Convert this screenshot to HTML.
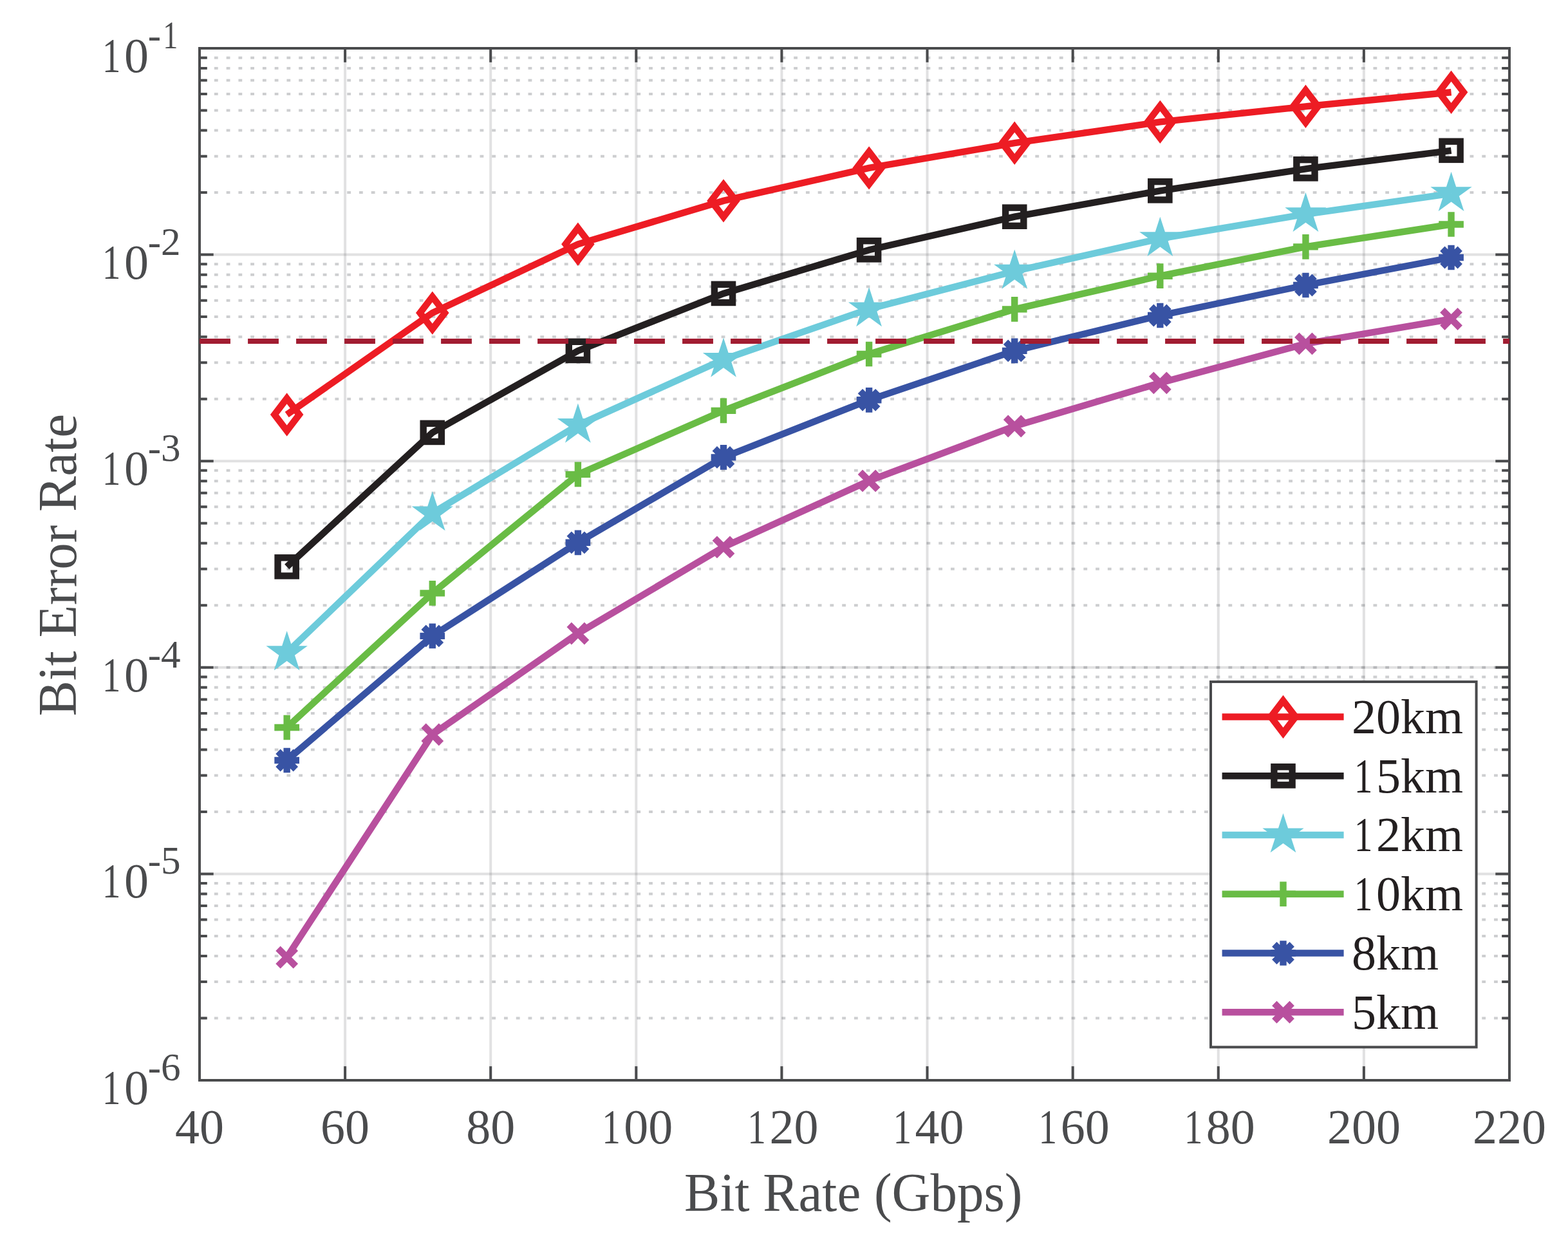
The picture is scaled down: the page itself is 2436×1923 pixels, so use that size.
<!DOCTYPE html><html><head><meta charset="utf-8"><title>Bit Error Rate vs Bit Rate</title><style>html,body{margin:0;padding:0;background:#fff;}svg{display:block;}text{font-family:"Liberation Serif","Times New Roman",serif;}</style></head><body>
<svg width="2436" height="1923" viewBox="0 0 2436 1923">
<rect x="0" y="0" width="2436" height="1923" fill="#ffffff"/>
<path d="M536.11 75.00V1678.00M762.22 75.00V1678.00M988.33 75.00V1678.00M1214.44 75.00V1678.00M1440.56 75.00V1678.00M1666.67 75.00V1678.00M1892.78 75.00V1678.00M2118.89 75.00V1678.00" stroke="#464a50" stroke-opacity="0.165" stroke-width="4" fill="none"/>
<path d="M310.00 1357.40H2345.00M310.00 1036.80H2345.00M310.00 716.20H2345.00M310.00 395.60H2345.00" stroke="#464a50" stroke-opacity="0.165" stroke-width="4" fill="none"/>
<path d="M310.00 1581.49H2345.00M310.00 1525.03H2345.00M310.00 1484.98H2345.00M310.00 1453.91H2345.00M310.00 1428.52H2345.00M310.00 1407.06H2345.00M310.00 1388.47H2345.00M310.00 1372.07H2345.00M310.00 1260.89H2345.00M310.00 1204.43H2345.00M310.00 1164.38H2345.00M310.00 1133.31H2345.00M310.00 1107.92H2345.00M310.00 1086.46H2345.00M310.00 1067.87H2345.00M310.00 1051.47H2345.00M310.00 940.29H2345.00M310.00 883.83H2345.00M310.00 843.78H2345.00M310.00 812.71H2345.00M310.00 787.32H2345.00M310.00 765.86H2345.00M310.00 747.27H2345.00M310.00 730.87H2345.00M310.00 619.69H2345.00M310.00 563.23H2345.00M310.00 523.18H2345.00M310.00 492.11H2345.00M310.00 466.72H2345.00M310.00 445.26H2345.00M310.00 426.67H2345.00M310.00 410.27H2345.00M310.00 299.09H2345.00M310.00 242.63H2345.00M310.00 202.58H2345.00M310.00 171.51H2345.00M310.00 146.12H2345.00M310.00 124.66H2345.00M310.00 106.07H2345.00M310.00 89.67H2345.00M310.00 1036.80H2345.00" stroke="#464a50" stroke-opacity="0.27" stroke-width="4" fill="none" stroke-dasharray="5.8 12.956" stroke-dashoffset="14.606"/>
<path d="M310.00 1678.00V1656.30M310.00 75.00V96.70M536.11 1678.00V1656.30M536.11 75.00V96.70M762.22 1678.00V1656.30M762.22 75.00V96.70M988.33 1678.00V1656.30M988.33 75.00V96.70M1214.44 1678.00V1656.30M1214.44 75.00V96.70M1440.56 1678.00V1656.30M1440.56 75.00V96.70M1666.67 1678.00V1656.30M1666.67 75.00V96.70M1892.78 1678.00V1656.30M1892.78 75.00V96.70M2118.89 1678.00V1656.30M2118.89 75.00V96.70M2345.00 1678.00V1656.30M2345.00 75.00V96.70M310.00 1678.00H331.70M2345.00 1678.00H2323.30M310.00 1357.40H331.70M2345.00 1357.40H2323.30M310.00 1036.80H331.70M2345.00 1036.80H2323.30M310.00 716.20H331.70M2345.00 716.20H2323.30M310.00 395.60H331.70M2345.00 395.60H2323.30M310.00 75.00H331.70M2345.00 75.00H2323.30M310.00 1581.49H321.80M2345.00 1581.49H2333.20M310.00 1525.03H321.80M2345.00 1525.03H2333.20M310.00 1484.98H321.80M2345.00 1484.98H2333.20M310.00 1453.91H321.80M2345.00 1453.91H2333.20M310.00 1428.52H321.80M2345.00 1428.52H2333.20M310.00 1407.06H321.80M2345.00 1407.06H2333.20M310.00 1388.47H321.80M2345.00 1388.47H2333.20M310.00 1372.07H321.80M2345.00 1372.07H2333.20M310.00 1260.89H321.80M2345.00 1260.89H2333.20M310.00 1204.43H321.80M2345.00 1204.43H2333.20M310.00 1164.38H321.80M2345.00 1164.38H2333.20M310.00 1133.31H321.80M2345.00 1133.31H2333.20M310.00 1107.92H321.80M2345.00 1107.92H2333.20M310.00 1086.46H321.80M2345.00 1086.46H2333.20M310.00 1067.87H321.80M2345.00 1067.87H2333.20M310.00 1051.47H321.80M2345.00 1051.47H2333.20M310.00 940.29H321.80M2345.00 940.29H2333.20M310.00 883.83H321.80M2345.00 883.83H2333.20M310.00 843.78H321.80M2345.00 843.78H2333.20M310.00 812.71H321.80M2345.00 812.71H2333.20M310.00 787.32H321.80M2345.00 787.32H2333.20M310.00 765.86H321.80M2345.00 765.86H2333.20M310.00 747.27H321.80M2345.00 747.27H2333.20M310.00 730.87H321.80M2345.00 730.87H2333.20M310.00 619.69H321.80M2345.00 619.69H2333.20M310.00 563.23H321.80M2345.00 563.23H2333.20M310.00 523.18H321.80M2345.00 523.18H2333.20M310.00 492.11H321.80M2345.00 492.11H2333.20M310.00 466.72H321.80M2345.00 466.72H2333.20M310.00 445.26H321.80M2345.00 445.26H2333.20M310.00 426.67H321.80M2345.00 426.67H2333.20M310.00 410.27H321.80M2345.00 410.27H2333.20M310.00 299.09H321.80M2345.00 299.09H2333.20M310.00 242.63H321.80M2345.00 242.63H2333.20M310.00 202.58H321.80M2345.00 202.58H2333.20M310.00 171.51H321.80M2345.00 171.51H2333.20M310.00 146.12H321.80M2345.00 146.12H2333.20M310.00 124.66H321.80M2345.00 124.66H2333.20M310.00 106.07H321.80M2345.00 106.07H2333.20M310.00 89.67H321.80M2345.00 89.67H2333.20" stroke="#4a4b4d" stroke-width="4" fill="none"/>
<rect x="310.0" y="75.0" width="2035.0" height="1603.0" stroke="#4a4b4d" stroke-width="4" fill="none"/>
<path d="M445.67 644.00L671.78 486.10L897.89 379.30L1124.00 311.90L1350.11 260.90L1576.22 222.20L1802.33 189.40L2028.44 165.30L2254.56 143.30" stroke="#ed1c24" stroke-width="10.4" fill="none" stroke-linejoin="miter"/>
<path d="M445.67 618.85L464.92 644.00L445.67 669.15L426.42 644.00Z" fill="none" stroke="#ed1c24" stroke-width="10.4" stroke-miterlimit="10"/>
<path d="M671.78 460.95L691.03 486.10L671.78 511.25L652.53 486.10Z" fill="none" stroke="#ed1c24" stroke-width="10.4" stroke-miterlimit="10"/>
<path d="M897.89 354.15L917.14 379.30L897.89 404.45L878.64 379.30Z" fill="none" stroke="#ed1c24" stroke-width="10.4" stroke-miterlimit="10"/>
<path d="M1124.00 286.75L1143.25 311.90L1124.00 337.05L1104.75 311.90Z" fill="none" stroke="#ed1c24" stroke-width="10.4" stroke-miterlimit="10"/>
<path d="M1350.11 235.75L1369.36 260.90L1350.11 286.05L1330.86 260.90Z" fill="none" stroke="#ed1c24" stroke-width="10.4" stroke-miterlimit="10"/>
<path d="M1576.22 197.05L1595.47 222.20L1576.22 247.35L1556.97 222.20Z" fill="none" stroke="#ed1c24" stroke-width="10.4" stroke-miterlimit="10"/>
<path d="M1802.33 164.25L1821.58 189.40L1802.33 214.55L1783.08 189.40Z" fill="none" stroke="#ed1c24" stroke-width="10.4" stroke-miterlimit="10"/>
<path d="M2028.44 140.15L2047.69 165.30L2028.44 190.45L2009.19 165.30Z" fill="none" stroke="#ed1c24" stroke-width="10.4" stroke-miterlimit="10"/>
<path d="M2254.56 118.15L2273.81 143.30L2254.56 168.45L2235.31 143.30Z" fill="none" stroke="#ed1c24" stroke-width="10.4" stroke-miterlimit="10"/>
<path d="M445.67 880.40L671.78 671.90L897.89 544.90L1124.00 455.90L1350.11 388.30L1576.22 336.70L1802.33 296.30L2028.44 262.30L2254.56 233.80" stroke="#231f20" stroke-width="10.4" fill="none" stroke-linejoin="miter"/>
<rect x="431.57" y="866.30" width="28.20" height="28.20" fill="none" stroke="#231f20" stroke-width="10.4"/>
<rect x="657.68" y="657.80" width="28.20" height="28.20" fill="none" stroke="#231f20" stroke-width="10.4"/>
<rect x="883.79" y="530.80" width="28.20" height="28.20" fill="none" stroke="#231f20" stroke-width="10.4"/>
<rect x="1109.90" y="441.80" width="28.20" height="28.20" fill="none" stroke="#231f20" stroke-width="10.4"/>
<rect x="1336.01" y="374.20" width="28.20" height="28.20" fill="none" stroke="#231f20" stroke-width="10.4"/>
<rect x="1562.12" y="322.60" width="28.20" height="28.20" fill="none" stroke="#231f20" stroke-width="10.4"/>
<rect x="1788.23" y="282.20" width="28.20" height="28.20" fill="none" stroke="#231f20" stroke-width="10.4"/>
<rect x="2014.34" y="248.20" width="28.20" height="28.20" fill="none" stroke="#231f20" stroke-width="10.4"/>
<rect x="2240.46" y="219.70" width="28.20" height="28.20" fill="none" stroke="#231f20" stroke-width="10.4"/>
<path d="M445.67 1013.80L671.78 797.00L897.89 660.40L1124.00 558.40L1350.11 479.90L1576.22 421.30L1802.33 370.60L2028.44 332.70L2254.56 300.60" stroke="#6dcbdb" stroke-width="10.4" fill="none" stroke-linejoin="miter"/>
<path d="M445.67 996.80L449.48 1008.55L461.83 1008.55L451.84 1015.81L455.66 1027.55L445.67 1020.29L435.67 1027.55L439.49 1015.81L429.50 1008.55L441.85 1008.55Z" fill="none" stroke="#6dcbdb" stroke-width="10.4" stroke-miterlimit="10"/>
<path d="M671.78 780.00L675.59 791.75L687.95 791.75L677.95 799.01L681.77 810.75L671.78 803.49L661.79 810.75L665.60 799.01L655.61 791.75L667.96 791.75Z" fill="none" stroke="#6dcbdb" stroke-width="10.4" stroke-miterlimit="10"/>
<path d="M897.89 643.40L901.71 655.15L914.06 655.15L904.07 662.41L907.88 674.15L897.89 666.89L887.90 674.15L891.71 662.41L881.72 655.15L894.07 655.15Z" fill="none" stroke="#6dcbdb" stroke-width="10.4" stroke-miterlimit="10"/>
<path d="M1124.00 541.40L1127.82 553.15L1140.17 553.15L1130.18 560.41L1133.99 572.15L1124.00 564.89L1114.01 572.15L1117.82 560.41L1107.83 553.15L1120.18 553.15Z" fill="none" stroke="#6dcbdb" stroke-width="10.4" stroke-miterlimit="10"/>
<path d="M1350.11 462.90L1353.93 474.65L1366.28 474.65L1356.29 481.91L1360.10 493.65L1350.11 486.39L1340.12 493.65L1343.93 481.91L1333.94 474.65L1346.29 474.65Z" fill="none" stroke="#6dcbdb" stroke-width="10.4" stroke-miterlimit="10"/>
<path d="M1576.22 404.30L1580.04 416.05L1592.39 416.05L1582.40 423.31L1586.21 435.05L1576.22 427.79L1566.23 435.05L1570.05 423.31L1560.05 416.05L1572.41 416.05Z" fill="none" stroke="#6dcbdb" stroke-width="10.4" stroke-miterlimit="10"/>
<path d="M1802.33 353.60L1806.15 365.35L1818.50 365.35L1808.51 372.61L1812.33 384.35L1802.33 377.09L1792.34 384.35L1796.16 372.61L1786.17 365.35L1798.52 365.35Z" fill="none" stroke="#6dcbdb" stroke-width="10.4" stroke-miterlimit="10"/>
<path d="M2028.44 315.70L2032.26 327.45L2044.61 327.45L2034.62 334.71L2038.44 346.45L2028.44 339.19L2018.45 346.45L2022.27 334.71L2012.28 327.45L2024.63 327.45Z" fill="none" stroke="#6dcbdb" stroke-width="10.4" stroke-miterlimit="10"/>
<path d="M2254.56 283.60L2258.37 295.35L2270.72 295.35L2260.73 302.61L2264.55 314.35L2254.56 307.09L2244.56 314.35L2248.38 302.61L2238.39 295.35L2250.74 295.35Z" fill="none" stroke="#6dcbdb" stroke-width="10.4" stroke-miterlimit="10"/>
<path d="M445.67 1130.00L671.78 921.40L897.89 736.90L1124.00 637.90L1350.11 550.00L1576.22 480.40L1802.33 428.70L2028.44 383.40L2254.56 348.50" stroke="#69bc45" stroke-width="10.4" fill="none" stroke-linejoin="miter"/>
<path d="M426.32 1130.00H465.02M445.67 1110.65V1149.35" stroke="#69bc45" stroke-width="10.4" fill="none"/>
<path d="M652.43 921.40H691.13M671.78 902.05V940.75" stroke="#69bc45" stroke-width="10.4" fill="none"/>
<path d="M878.54 736.90H917.24M897.89 717.55V756.25" stroke="#69bc45" stroke-width="10.4" fill="none"/>
<path d="M1104.65 637.90H1143.35M1124.00 618.55V657.25" stroke="#69bc45" stroke-width="10.4" fill="none"/>
<path d="M1330.76 550.00H1369.46M1350.11 530.65V569.35" stroke="#69bc45" stroke-width="10.4" fill="none"/>
<path d="M1556.87 480.40H1595.57M1576.22 461.05V499.75" stroke="#69bc45" stroke-width="10.4" fill="none"/>
<path d="M1782.98 428.70H1821.68M1802.33 409.35V448.05" stroke="#69bc45" stroke-width="10.4" fill="none"/>
<path d="M2009.09 383.40H2047.79M2028.44 364.05V402.75" stroke="#69bc45" stroke-width="10.4" fill="none"/>
<path d="M2235.21 348.50H2273.91M2254.56 329.15V367.85" stroke="#69bc45" stroke-width="10.4" fill="none"/>
<path d="M445.67 1181.00L671.78 987.90L897.89 842.80L1124.00 710.40L1350.11 621.30L1576.22 544.90L1802.33 490.00L2028.44 443.00L2254.56 400.00" stroke="#3853a4" stroke-width="10.4" fill="none" stroke-linejoin="miter"/>
<path d="M426.32 1181.00H465.02M445.67 1161.65V1200.35M431.97 1167.30L459.37 1194.70M431.97 1194.70L459.37 1167.30" stroke="#3853a4" stroke-width="10.4" fill="none"/>
<path d="M652.43 987.90H691.13M671.78 968.55V1007.25M658.08 974.20L685.48 1001.60M658.08 1001.60L685.48 974.20" stroke="#3853a4" stroke-width="10.4" fill="none"/>
<path d="M878.54 842.80H917.24M897.89 823.45V862.15M884.19 829.10L911.59 856.50M884.19 856.50L911.59 829.10" stroke="#3853a4" stroke-width="10.4" fill="none"/>
<path d="M1104.65 710.40H1143.35M1124.00 691.05V729.75M1110.30 696.70L1137.70 724.10M1110.30 724.10L1137.70 696.70" stroke="#3853a4" stroke-width="10.4" fill="none"/>
<path d="M1330.76 621.30H1369.46M1350.11 601.95V640.65M1336.41 607.60L1363.81 635.00M1336.41 635.00L1363.81 607.60" stroke="#3853a4" stroke-width="10.4" fill="none"/>
<path d="M1556.87 544.90H1595.57M1576.22 525.55V564.25M1562.52 531.20L1589.92 558.60M1562.52 558.60L1589.92 531.20" stroke="#3853a4" stroke-width="10.4" fill="none"/>
<path d="M1782.98 490.00H1821.68M1802.33 470.65V509.35M1788.63 476.30L1816.03 503.70M1788.63 503.70L1816.03 476.30" stroke="#3853a4" stroke-width="10.4" fill="none"/>
<path d="M2009.09 443.00H2047.79M2028.44 423.65V462.35M2014.74 429.30L2042.14 456.70M2014.74 456.70L2042.14 429.30" stroke="#3853a4" stroke-width="10.4" fill="none"/>
<path d="M2235.21 400.00H2273.91M2254.56 380.65V419.35M2240.86 386.30L2268.26 413.70M2240.86 413.70L2268.26 386.30" stroke="#3853a4" stroke-width="10.4" fill="none"/>
<path d="M445.67 1487.00L671.78 1141.00L897.89 984.00L1124.00 849.80L1350.11 746.90L1576.22 662.00L1802.33 594.80L2028.44 533.90L2254.56 495.50" stroke="#b8509e" stroke-width="10.4" fill="none" stroke-linejoin="miter"/>
<path d="M431.97 1473.30L459.37 1500.70M431.97 1500.70L459.37 1473.30" stroke="#b8509e" stroke-width="10.4" fill="none"/>
<path d="M658.08 1127.30L685.48 1154.70M658.08 1154.70L685.48 1127.30" stroke="#b8509e" stroke-width="10.4" fill="none"/>
<path d="M884.19 970.30L911.59 997.70M884.19 997.70L911.59 970.30" stroke="#b8509e" stroke-width="10.4" fill="none"/>
<path d="M1110.30 836.10L1137.70 863.50M1110.30 863.50L1137.70 836.10" stroke="#b8509e" stroke-width="10.4" fill="none"/>
<path d="M1336.41 733.20L1363.81 760.60M1336.41 760.60L1363.81 733.20" stroke="#b8509e" stroke-width="10.4" fill="none"/>
<path d="M1562.52 648.30L1589.92 675.70M1562.52 675.70L1589.92 648.30" stroke="#b8509e" stroke-width="10.4" fill="none"/>
<path d="M1788.63 581.10L1816.03 608.50M1788.63 608.50L1816.03 581.10" stroke="#b8509e" stroke-width="10.4" fill="none"/>
<path d="M2014.74 520.20L2042.14 547.60M2014.74 547.60L2042.14 520.20" stroke="#b8509e" stroke-width="10.4" fill="none"/>
<path d="M2240.86 481.80L2268.26 509.20M2240.86 509.20L2268.26 481.80" stroke="#b8509e" stroke-width="10.4" fill="none"/>
<path d="M310.1 530H2345.0" stroke="#a11c31" stroke-width="8" stroke-dasharray="47.85 27.150" fill="none"/>
<text transform="translate(310.00,1775.80) scale(0.987,1)" y="0" font-size="77" fill="#4a4b4d"><tspan x="-38.50">40</tspan></text>
<text transform="translate(536.11,1775.80) scale(0.987,1)" y="0" font-size="77" fill="#4a4b4d"><tspan x="-38.50">60</tspan></text>
<text transform="translate(762.22,1775.80) scale(0.987,1)" y="0" font-size="77" fill="#4a4b4d"><tspan x="-38.50">80</tspan></text>
<text transform="translate(988.33,1775.80) scale(0.987,1)" y="0" font-size="77" fill="#4a4b4d"><tspan x="-53.85" textLength="29.05" lengthAdjust="spacingAndGlyphs">1</tspan><tspan x="-19.25">00</tspan></text>
<text transform="translate(1214.44,1775.80) scale(0.987,1)" y="0" font-size="77" fill="#4a4b4d"><tspan x="-53.85" textLength="29.05" lengthAdjust="spacingAndGlyphs">1</tspan><tspan x="-19.25">20</tspan></text>
<text transform="translate(1440.56,1775.80) scale(0.987,1)" y="0" font-size="77" fill="#4a4b4d"><tspan x="-53.85" textLength="29.05" lengthAdjust="spacingAndGlyphs">1</tspan><tspan x="-19.25">40</tspan></text>
<text transform="translate(1666.67,1775.80) scale(0.987,1)" y="0" font-size="77" fill="#4a4b4d"><tspan x="-53.85" textLength="29.05" lengthAdjust="spacingAndGlyphs">1</tspan><tspan x="-19.25">60</tspan></text>
<text transform="translate(1892.78,1775.80) scale(0.987,1)" y="0" font-size="77" fill="#4a4b4d"><tspan x="-53.85" textLength="29.05" lengthAdjust="spacingAndGlyphs">1</tspan><tspan x="-19.25">80</tspan></text>
<text transform="translate(2118.89,1775.80) scale(0.987,1)" y="0" font-size="77" fill="#4a4b4d"><tspan x="-57.75">200</tspan></text>
<text transform="translate(2345.00,1775.80) scale(0.987,1)" y="0" font-size="77" fill="#4a4b4d"><tspan x="-57.75">220</tspan></text>
<text transform="translate(154.92,1715.00) scale(0.987,1)" y="0" font-size="77" fill="#4a4b4d"><tspan x="3.90" y="0.00" textLength="29.05" lengthAdjust="spacingAndGlyphs">1</tspan><tspan x="38.50" y="0.00">0</tspan><tspan x="75.80" y="-37.00" font-size="62">-6</tspan></text>
<text transform="translate(154.92,1394.40) scale(0.987,1)" y="0" font-size="77" fill="#4a4b4d"><tspan x="3.90" y="0.00" textLength="29.05" lengthAdjust="spacingAndGlyphs">1</tspan><tspan x="38.50" y="0.00">0</tspan><tspan x="75.80" y="-37.00" font-size="62">-5</tspan></text>
<text transform="translate(154.92,1073.80) scale(0.987,1)" y="0" font-size="77" fill="#4a4b4d"><tspan x="3.90" y="0.00" textLength="29.05" lengthAdjust="spacingAndGlyphs">1</tspan><tspan x="38.50" y="0.00">0</tspan><tspan x="75.80" y="-37.00" font-size="62">-4</tspan></text>
<text transform="translate(154.92,753.20) scale(0.987,1)" y="0" font-size="77" fill="#4a4b4d"><tspan x="3.90" y="0.00" textLength="29.05" lengthAdjust="spacingAndGlyphs">1</tspan><tspan x="38.50" y="0.00">0</tspan><tspan x="75.80" y="-37.00" font-size="62">-3</tspan></text>
<text transform="translate(154.92,432.60) scale(0.987,1)" y="0" font-size="77" fill="#4a4b4d"><tspan x="3.90" y="0.00" textLength="29.05" lengthAdjust="spacingAndGlyphs">1</tspan><tspan x="38.50" y="0.00">0</tspan><tspan x="75.80" y="-37.00" font-size="62">-2</tspan></text>
<text transform="translate(154.92,112.00) scale(0.987,1)" y="0" font-size="77" fill="#4a4b4d"><tspan x="3.90" y="0.00" textLength="29.05" lengthAdjust="spacingAndGlyphs">1</tspan><tspan x="38.50" y="0.00">0</tspan><tspan x="75.80" y="-37.00" font-size="62">-</tspan><tspan x="99.58" y="-37.00" font-size="62" textLength="23.39" lengthAdjust="spacingAndGlyphs">1</tspan></text>
<text transform="translate(1325.7,1881.3) scale(0.9875,1)" x="0" y="0" font-size="84" fill="#4a4b4d" text-anchor="middle">Bit Rate (Gbps)</text>
<text transform="translate(118.2,877.8) rotate(-90) scale(0.987,1)" x="0" y="0" font-size="84" fill="#4a4b4d" text-anchor="middle">Bit Error Rate</text>
<rect x="1881" y="1059" width="412.5999999999999" height="567.5" fill="#ffffff" stroke="#4a4b4d" stroke-width="4"/>
<path d="M1898.6 1113.50H2087.6" stroke="#ed1c24" stroke-width="10.4" fill="none"/>
<path d="M1993.50 1088.35L2012.75 1113.50L1993.50 1138.65L1974.25 1113.50Z" fill="none" stroke="#ed1c24" stroke-width="10.4" stroke-miterlimit="10"/>
<text transform="translate(2100.00,1138.90) scale(1.0,1)" y="0" font-size="76" fill="#231f20"><tspan x="0.00">20km</tspan></text>
<path d="M1898.6 1205.25H2087.6" stroke="#231f20" stroke-width="10.4" fill="none"/>
<rect x="1979.40" y="1191.15" width="28.20" height="28.20" fill="none" stroke="#231f20" stroke-width="10.4"/>
<text transform="translate(2100.00,1230.65) scale(1.0,1)" y="0" font-size="76" fill="#231f20"><tspan x="3.84" textLength="28.67" lengthAdjust="spacingAndGlyphs">1</tspan><tspan x="38.00">5km</tspan></text>
<path d="M1898.6 1297.00H2087.6" stroke="#6dcbdb" stroke-width="10.4" fill="none"/>
<path d="M1993.50 1280.00L1997.32 1291.75L2009.67 1291.75L1999.68 1299.01L2003.49 1310.75L1993.50 1303.49L1983.51 1310.75L1987.32 1299.01L1977.33 1291.75L1989.68 1291.75Z" fill="none" stroke="#6dcbdb" stroke-width="10.4" stroke-miterlimit="10"/>
<text transform="translate(2100.00,1322.40) scale(1.0,1)" y="0" font-size="76" fill="#231f20"><tspan x="3.84" textLength="28.67" lengthAdjust="spacingAndGlyphs">1</tspan><tspan x="38.00">2km</tspan></text>
<path d="M1898.6 1388.75H2087.6" stroke="#69bc45" stroke-width="10.4" fill="none"/>
<path d="M1974.15 1388.75H2012.85M1993.50 1369.40V1408.10" stroke="#69bc45" stroke-width="10.4" fill="none"/>
<text transform="translate(2100.00,1414.15) scale(1.0,1)" y="0" font-size="76" fill="#231f20"><tspan x="3.84" textLength="28.67" lengthAdjust="spacingAndGlyphs">1</tspan><tspan x="38.00">0km</tspan></text>
<path d="M1898.6 1480.50H2087.6" stroke="#3853a4" stroke-width="10.4" fill="none"/>
<path d="M1974.15 1480.50H2012.85M1993.50 1461.15V1499.85M1979.80 1466.80L2007.20 1494.20M1979.80 1494.20L2007.20 1466.80" stroke="#3853a4" stroke-width="10.4" fill="none"/>
<text transform="translate(2100.00,1505.90) scale(1.0,1)" y="0" font-size="76" fill="#231f20"><tspan x="0.00">8km</tspan></text>
<path d="M1898.6 1572.25H2087.6" stroke="#b8509e" stroke-width="10.4" fill="none"/>
<path d="M1979.80 1558.55L2007.20 1585.95M1979.80 1585.95L2007.20 1558.55" stroke="#b8509e" stroke-width="10.4" fill="none"/>
<text transform="translate(2100.00,1597.65) scale(1.0,1)" y="0" font-size="76" fill="#231f20"><tspan x="0.00">5km</tspan></text>
</svg></body></html>
